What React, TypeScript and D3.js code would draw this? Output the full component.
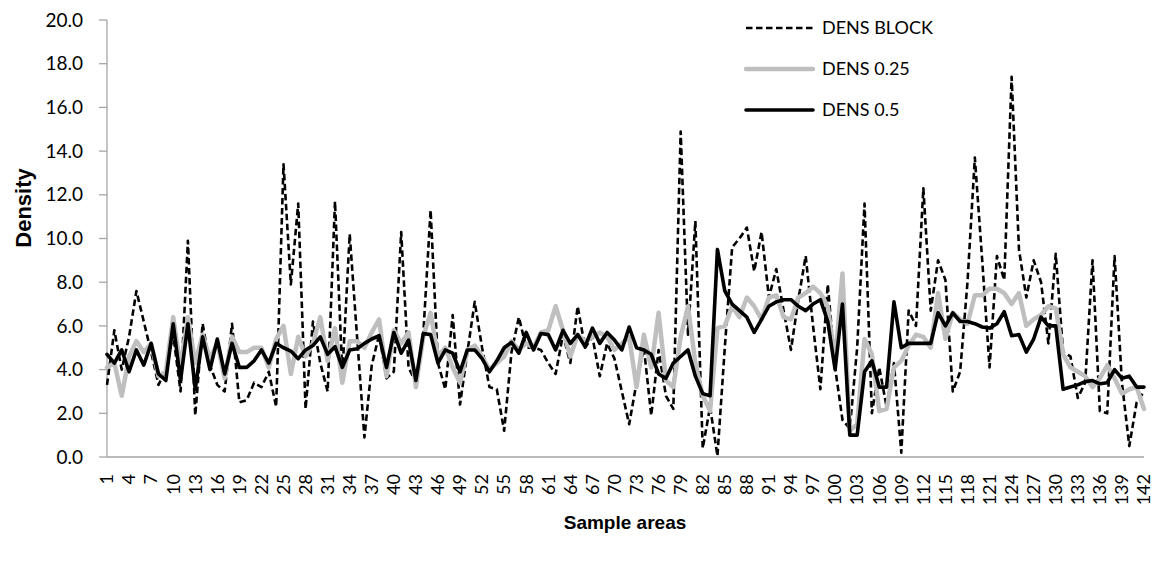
import React from "react";
import * as d3 from "d3";

const samples: number[] = Array.from({ length: 142 }, (_, i) => i + 1);

const densBlock: number[] = [
  3.3, 5.8, 4.0, 5.5, 7.6, 6.2, 4.8, 3.3, 4.0, 5.6,
  3.0, 9.9, 1.9, 6.1, 4.2, 3.3, 3.0, 6.1, 2.5, 2.6,
  3.4, 3.2, 3.9, 2.3, 13.4, 7.9, 11.6, 2.2, 6.2, 4.3,
  3.0, 11.7, 3.8, 10.2, 5.5, 0.9, 4.2, 5.6, 3.6, 3.9,
  10.3, 4.1, 3.4, 5.6, 11.3, 4.3, 3.1, 6.5, 2.4, 4.8,
  7.1, 5.0, 3.2, 3.1, 1.2, 4.8, 6.4, 5.0, 5.0, 4.9,
  4.3, 3.8, 5.6, 4.3, 6.9, 5.0, 5.5, 3.7, 5.2, 4.5,
  3.0, 1.5, 3.4, 5.0, 1.9, 4.9, 2.8, 2.2, 14.9, 5.6,
  10.8, 0.4, 2.3, 0.05, 5.0, 9.6, 10.0, 10.5, 8.5, 10.3,
  7.3, 8.6, 6.7, 4.9, 7.2, 9.2, 6.0, 3.1, 7.9, 4.1,
  1.7, 1.3, 5.0, 11.6, 2.0, 4.1, 2.3, 4.3, 0.2, 6.7,
  6.0, 12.3, 6.7, 9.0, 8.1, 3.0, 3.9, 8.0, 13.7, 9.0,
  4.1, 9.2, 8.1, 17.4, 9.5, 7.3, 9.0, 8.0, 5.2, 9.3,
  4.8, 4.6, 2.7, 3.4, 9.0, 2.1, 2.0, 9.2, 3.4, 0.5,
  2.5, 3.0,
];

const dens025: number[] = [
  4.1, 4.3, 2.8, 4.6, 5.3, 4.8, 5.2, 3.7, 3.9, 6.4,
  4.1, 6.4, 4.3, 5.6, 4.5, 5.2, 3.6, 5.5, 4.8, 4.8,
  5.0, 5.0, 4.1, 5.4, 6.0, 3.8, 5.5, 4.6, 5.2, 6.4,
  4.4, 5.9, 3.4, 5.3, 5.3, 5.0, 5.7, 6.3, 3.7, 5.8,
  5.2, 5.7, 3.2, 5.5, 6.6, 4.6, 5.0, 4.1, 3.4, 4.9,
  5.1, 4.6, 4.0, 4.3, 4.6, 5.3, 4.9, 5.2, 5.0, 5.7,
  5.8, 6.9, 5.8, 4.6, 5.6, 5.3, 5.5, 5.7, 5.5, 4.9,
  5.2, 5.5, 3.2, 5.6, 4.1, 6.6, 3.5, 3.2, 5.5, 6.9,
  4.3, 2.8, 2.1, 5.9, 6.0, 6.9, 6.4, 7.3, 6.9, 6.3,
  7.3, 7.4, 6.4, 6.3, 7.3, 7.5, 7.8, 7.5, 6.9, 4.4,
  8.4, 1.2, 1.5, 5.4, 4.7, 2.1, 2.2, 4.1, 4.4, 5.1,
  5.6, 5.5, 5.0, 7.5, 5.4, 6.6, 6.3, 6.1, 7.4, 7.4,
  7.7, 7.7, 7.5, 7.0, 7.5, 6.0, 6.3, 6.5, 6.9, 6.8,
  4.7, 4.1, 3.9, 3.7, 3.2, 3.6, 4.2, 3.6, 2.9, 3.1,
  3.2, 2.2,
];

const dens05: number[] = [
  4.7, 4.3, 4.9, 3.9, 4.9, 4.2, 5.2, 3.8, 3.5, 6.1,
  3.5, 6.1, 3.1, 5.5, 4.0, 5.4, 3.8, 5.2, 4.1, 4.1,
  4.4, 4.9, 4.3, 5.2, 5.0, 4.85, 4.5, 4.9, 5.1, 5.5,
  4.7, 5.05, 4.1, 4.9, 4.95, 5.2, 5.4, 5.55, 4.1, 5.7,
  4.75, 5.35, 3.5, 5.65, 5.6, 4.3, 4.9, 4.75, 3.9, 4.9,
  4.9, 4.5, 3.9, 4.4, 5.0, 5.25, 4.75, 5.7, 4.9, 5.65,
  5.6, 4.9, 5.8, 5.2, 5.6, 5.05, 5.9, 5.2, 5.7, 5.35,
  4.9, 5.95, 5.0, 4.9, 4.7, 3.8, 3.6, 4.3, 4.6, 4.9,
  3.7, 2.9, 2.8, 9.5, 7.6, 7.0, 6.7, 6.4, 5.7, 6.3,
  6.9, 7.1, 7.2, 7.2, 6.9, 6.7, 7.0, 7.2, 6.2, 4.0,
  7.0, 1.0, 1.0, 3.9, 4.4, 3.2, 3.2, 7.1, 5.0, 5.2,
  5.2, 5.2, 5.2, 6.6, 6.0, 6.6, 6.2, 6.2, 6.1, 5.95,
  5.9, 6.1, 6.65, 5.55, 5.6, 4.8, 5.4, 6.4, 6.0, 6.0,
  3.1, 3.2, 3.3, 3.45, 3.5, 3.35, 3.4, 4.0, 3.6, 3.7,
  3.2, 3.2,
];

const yTicks: number[] = [0, 2, 4, 6, 8, 10, 12, 14, 16, 18, 20];
const xTickLabels: number[] = samples.filter((s) => (s - 1) % 3 === 0);

const seriesNames: string[] = ["DENS BLOCK", "DENS 0.25", "DENS 0.5"];

const W = 1159;
const H = 564;
const FONT = "Lato, 'Open Sans', sans-serif";

export default function App() {
  const x = d3.scaleLinear().domain([1, 142]).range([107, 1144]);
  const y = d3.scaleLinear().domain([0, 20]).range([457, 20]);

  const line = d3
    .line<number>()
    .x((_, i) => x(samples[i]))
    .y((d) => y(d));

  const styles = [
    { stroke: "#000", width: 2.6, dash: "6.5,3.5", cap: "butt" },
    { stroke: "#BFBFBF", width: 4.5, dash: undefined, cap: "round" },
    { stroke: "#000", width: 3.6, dash: undefined, cap: "round" },
  ];
  const data = [densBlock, dens025, dens05];

  return (
    <svg
      width={W}
      height={H}
      style={{ position: "absolute", left: 0, top: 0, background: "#fff" }}
    >
      <rect x={0} y={0} width={W} height={H} fill="#fff" />
      <line x1={107} x2={107} y1={y(20)} y2={y(0)} stroke="#A6A6A6" strokeWidth={1.3} />
      {yTicks.map((t) => (
        <g key={t}>
          <line x1={99} x2={107} y1={y(t)} y2={y(t)} stroke="#A6A6A6" strokeWidth={1.3} />
          <text
            x={83}
            y={y(t)}
            dy="0.35em"
            textAnchor="end"
            fontFamily={FONT}
            fontSize={19}
            fill="#000"
          >
            {t.toFixed(1)}
          </text>
        </g>
      ))}
      <line x1={107} x2={x(142)} y1={y(0)} y2={y(0)} stroke="#A6A6A6" strokeWidth={1.3} />
      {xTickLabels.map((s) => (
        <text
          key={s}
          transform={`translate(${x(s)},${474}) rotate(-90)`}
          dy="0.35em"
          textAnchor="end"
          fontFamily={FONT}
          fontSize={18}
          fill="#000"
        >
          {s}
        </text>
      ))}
      {data.map((d, k) => (
        <path
          key={k}
          d={line(d) || ""}
          fill="none"
          stroke={styles[k].stroke}
          strokeWidth={styles[k].width}
          strokeDasharray={styles[k].dash}
          strokeLinejoin="round"
          strokeLinecap={styles[k].cap as any}
        />
      ))}
      <text
        transform={`translate(31,${208}) rotate(-90)`}
        textAnchor="middle"
        fontFamily="'Liberation Sans', Arial, sans-serif"
        fontWeight="bold"
        fontSize={22}
        fill="#000"
      >
        Density
      </text>
      <text
        x={625}
        y={529}
        textAnchor="middle"
        fontFamily="'Liberation Sans', Arial, sans-serif"
        fontWeight="bold"
        fontSize={19}
        fill="#000"
      >
        Sample areas
      </text>
      {seriesNames.map((name, k) => {
        const ly = [28, 69, 110][k];
        return (
          <g key={name}>
            <line
              x1={746}
              x2={813}
              y1={ly}
              y2={ly}
              stroke={styles[k].stroke}
              strokeWidth={styles[k].width}
              strokeDasharray={styles[k].dash}
              strokeLinecap={styles[k].cap as any}
            />
            <text
              x={822}
              y={ly}
              dy="0.35em"
              fontFamily={FONT}
              fontSize={18}
              fill="#000"
            >
              {name}
            </text>
          </g>
        );
      })}
    </svg>
  );
}
